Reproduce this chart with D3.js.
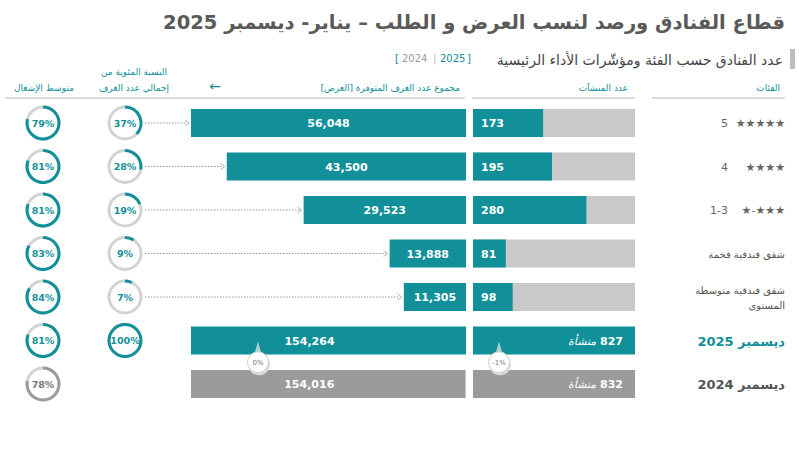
<!DOCTYPE html>
<html><head><meta charset="utf-8">
<script src="https://cdn.jsdelivr.net/npm/d3@7"></script>
<style>
body{margin:0;background:#fff;}
svg{font-family:"DejaVu Sans","Noto Sans",sans-serif;}
</style></head>
<body>
<svg id="c" width="799" height="451"></svg>
<script>
const categoryNums = ["5", "4", "1-3"];
const categoryStars = ["★★★★★", "★★★★", "★-★★★"];
const categoryNames = ["", "", "", "شقق فندقية فخمة", "شقق فندقية متوسطة|المستوى"];
const establishments = [173, 195, 280, 81, 98];
const rooms = [56048, 43500, 29523, 13888, 11305];
const roomShare = [37, 28, 19, 9, 7];
const occupancy = [79, 81, 81, 83, 84];
const totalLabels = ["ديسمبر 2025", "ديسمبر 2024"];
const totalEstablishments = [827, 832];
const totalRooms = [154264, 154016];
const totalShare = [100, null];
const totalOccupancy = [81, 78];
const changeRooms = "0%";
const changeEst = "-1%";

const TEAL = "#11909a", GREY = "#c9c9c9", DGREY = "#9b9b9b";
const svg = d3.select("#c");
const fmt = d3.format(",");

// Title
svg.append("text").attr("x", 785).attr("y", 29).attr("direction","rtl").attr("text-anchor","start")
  .attr("font-size", 19.5).attr("font-weight","bold").attr("fill","#5a5a5a")
  .text("قطاع الفنادق ورصد لنسب العرض و الطلب – يناير- ديسمبر 2025");
svg.append("rect").attr("x",790).attr("y",49).attr("width",5).attr("height",20).attr("fill","#bdbdbd");
svg.append("text").attr("x", 783).attr("y", 65).attr("direction","rtl").attr("text-anchor","start")
  .attr("font-size", 14).attr("fill","#444").text("عدد الفنادق حسب الفئة ومؤشّرات الأداء الرئيسية");
// year legend
[["[",395,"#12909a"],["2024",402,"#9a9a9a"],["|",433,"#bbb"],["2025",440,"#12909a"],["]",467,"#12909a"]].forEach(p=>{
  svg.append("text").attr("x",p[1]).attr("y",62).attr("font-size",10).attr("fill",p[2]).text(p[0]);
});

// headers
const hy = 91;
svg.append("text").attr("x",780).attr("y",hy).attr("direction","rtl").attr("text-anchor","start").attr("font-size",9).attr("fill",TEAL).text("الفئات");
svg.append("text").attr("x",628).attr("y",hy).attr("direction","rtl").attr("text-anchor","start").attr("font-size",9).attr("fill",TEAL).text("عدد المنشآت");
svg.append("text").attr("x",460).attr("y",hy).attr("direction","rtl").attr("text-anchor","start").attr("font-size",9).attr("fill",TEAL).text("مجموع عدد الغرف المتوفرة [العرض]");
svg.append("text").attr("x",215).attr("y",hy).attr("text-anchor","middle").attr("font-size",14).attr("fill",TEAL).text("←");
svg.append("text").attr("x",134).attr("y",75).attr("direction","rtl").attr("text-anchor","middle").attr("font-size",9).attr("fill",TEAL).text("النسبة المئوية من");
svg.append("text").attr("x",134).attr("y",hy).attr("direction","rtl").attr("text-anchor","middle").attr("font-size",9).attr("fill",TEAL).text("إجمالي عدد الغرف");
svg.append("text").attr("x",44).attr("y",hy).attr("direction","rtl").attr("text-anchor","middle").attr("font-size",9).attr("fill",TEAL).text("متوسط الإشغال");
[[652,785],[472,635],[5,465]].forEach(s=>svg.append("line").attr("x1",s[0]).attr("x2",s[1]).attr("y1",98).attr("y2",98).attr("stroke","#cfcfcf").attr("stroke-width",1.5));

// scales
const rowY = d3.scalePoint().domain(d3.range(7)).range([123, 384]);
const bh = 28;
const xEst = d3.scaleLinear().domain([0, 400]).range([0, 162]);
const estX0 = 473;
const xRooms = d3.scaleLinear().domain([0, 50000]).range([0, 275]).clamp(true);
const roomsX1 = 466;
const xTot = d3.scaleLinear().domain([0, 154264]).range([0, 275]);

// category labels
categoryStars.forEach((s,i)=>{
  const y = rowY(i);
  const st = svg.append("text").attr("x",785).attr("y",y+4).attr("text-anchor","end").attr("font-size",11).attr("fill","#666").text(s);
  const w = st.node().getComputedTextLength();
  svg.append("text").attr("x",Math.min(785-w-5,728)).attr("y",y+4).attr("text-anchor","end").attr("font-size",11).attr("fill","#666").text(categoryNums[i]);
});
categoryNames.forEach((c,i)=>{
  if(!c) return;
  const y = rowY(i);
  const parts = c.split("|");
  if (parts.length===1) {
    svg.append("text").attr("x",785).attr("y",y+4).attr("direction","rtl").attr("text-anchor","start").attr("font-size",10).attr("fill","#555").text(parts[0]);
  } else {
    parts.forEach((p,k)=>svg.append("text").attr("x",785).attr("y",y-3+k*15).attr("direction","rtl").attr("text-anchor","start").attr("font-size",10).attr("fill","#555").text(p));
  }
});
totalLabels.forEach((t,k)=>{
  svg.append("text").attr("x",785).attr("y",rowY(5+k)+5).attr("direction","rtl").attr("text-anchor","start")
    .attr("font-size",13).attr("font-weight","bold").attr("fill",k===0?TEAL:"#555").text(t);
});

// establishments bars
const estG = svg.append("g");
estG.selectAll(".bg").data(establishments).join("rect").attr("x",estX0).attr("y",(d,i)=>rowY(i)-bh/2).attr("width",xEst(400)).attr("height",bh).attr("fill",GREY);
estG.selectAll(".fg").data(establishments).join("rect").attr("class","fg").attr("x",estX0).attr("y",(d,i)=>rowY(i)-bh/2).attr("width",d=>xEst(d)).attr("height",bh).attr("fill",TEAL);
estG.selectAll(".lb").data(establishments).join("text").attr("class","lb").attr("x",estX0+8).attr("y",(d,i)=>rowY(i)+4).attr("font-size",11).attr("font-weight","bold").attr("fill","#fff").text(d=>d);
totalEstablishments.forEach((v,k)=>{
  const y = rowY(5+k);
  svg.append("rect").attr("x",estX0).attr("y",y-bh/2).attr("width",xEst(400)).attr("height",bh).attr("fill",k===0?TEAL:DGREY);
  const t = svg.append("text").attr("x",estX0+150).attr("y",y+4).attr("direction","rtl").attr("text-anchor","start").attr("font-size",11).attr("fill","#fff");
  t.append("tspan").attr("font-weight","bold").text(v+" ");
  t.append("tspan").attr("font-style","italic").text("منشأة");
});

// rooms bars
rooms.forEach((v,i)=>{
  const y=rowY(i), w=xRooms(v);
  svg.append("rect").attr("x",roomsX1-w).attr("y",y-bh/2).attr("width",w).attr("height",bh).attr("fill",TEAL);
  svg.append("text").attr("x",roomsX1-w/2).attr("y",y+4).attr("text-anchor","middle").attr("font-size",11).attr("font-weight","bold").attr("fill","#fff").text(fmt(v));
  svg.append("line").attr("x1",145).attr("x2",roomsX1-w-4).attr("y1",y).attr("y2",y).attr("stroke","#999").attr("stroke-width",1).attr("stroke-dasharray","1.5,1.5");
  svg.append("path").attr("d",`M${roomsX1-w-6},${y-3}L${roomsX1-w-2},${y}L${roomsX1-w-6},${y+3}`).attr("fill","none").attr("stroke","#999").attr("stroke-width",0.8);
});
totalRooms.forEach((v,k)=>{
  const y=rowY(5+k), w=xTot(v);
  svg.append("rect").attr("x",roomsX1-275).attr("y",y-bh/2).attr("width",w).attr("height",bh).attr("fill",k===0?TEAL:DGREY);
  svg.append("text").attr("x",roomsX1-275+w/2-19).attr("y",y+4).attr("text-anchor","middle").attr("font-size",11).attr("font-weight","bold").attr("fill","#fff").text(fmt(v));
});

// change badges
function badge(x, label){
  const yTop = rowY(5)+bh/2, yBot = rowY(6)-bh/2;
  const cy = (yTop+yBot)/2;
  svg.append("path").attr("d",`M${x},${rowY(5)+1}L${x+6},${cy}L${x-6},${cy}Z`).attr("fill","#a9cfd2");
  svg.append("circle").attr("cx",x+1).attr("cy",cy+2).attr("r",11).attr("fill","#ddd");
  svg.append("circle").attr("cx",x).attr("cy",cy).attr("r",10.5).attr("fill","#fff").attr("stroke","#d0d0d0");
  svg.append("text").attr("x",x).attr("y",cy+3).attr("text-anchor","middle").attr("font-size",7).attr("fill","#777").text(label);
}
badge(258, changeRooms);
badge(499, changeEst);

// donuts
const arc = d3.arc();
function donut(cx, cy, pct, color, txtColor){
  const g = svg.append("g").attr("transform",`translate(${cx},${cy})`);
  g.append("circle").attr("r",16).attr("fill","#fff").attr("stroke","#d3d3d3").attr("stroke-width",3);
  g.append("path").attr("d",arc({innerRadius:14.5,outerRadius:17.5,startAngle:0,endAngle:2*Math.PI*pct/100})).attr("fill",color);
  g.append("text").attr("y",3.5).attr("text-anchor","middle").attr("font-size",9.5).attr("font-weight","bold").attr("fill",txtColor).text(pct+"%");
}
roomShare.forEach((p,i)=>donut(125,rowY(i),p,TEAL,TEAL));
occupancy.forEach((p,i)=>donut(43,rowY(i),p,TEAL,TEAL));
totalShare.forEach((p,k)=>{ if(p!==null) donut(125,rowY(5+k),p,TEAL,TEAL); });
totalOccupancy.forEach((p,k)=>donut(43,rowY(5+k),p,k===0?TEAL:DGREY,k===0?TEAL:"#777"));
</script>
</body></html>
